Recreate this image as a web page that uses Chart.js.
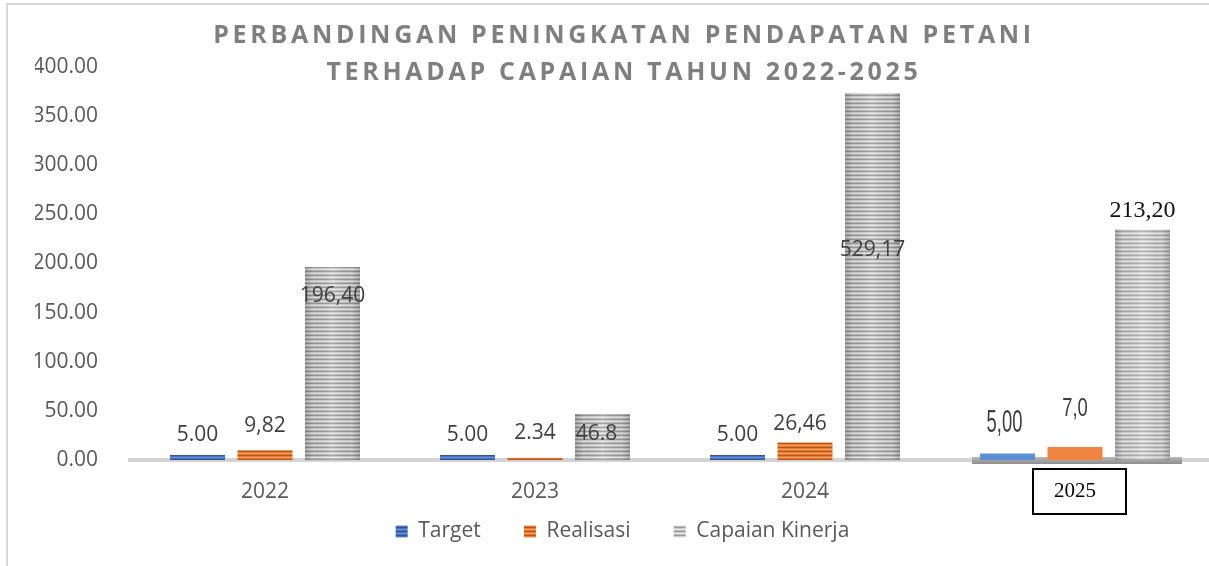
<!DOCTYPE html>
<html>
<head>
<meta charset="utf-8">
<script src="https://cdn.jsdelivr.net/npm/chart.js@4.4.1/dist/chart.umd.min.js"></script>
<style>
  html, body { margin: 0; padding: 0; background: #fff; overflow: hidden; }
  #wrap { position: relative; width: 1212px; height: 566px; }
  #frame { position: absolute; left: 6px; top: 3px; width: 1300px; height: 700px;
           border-left: 2px solid #d9d9d9; border-top: 2px solid #d9d9d9; }
  canvas { position: absolute; left: 0; top: 0; }
</style>
</head>
<body>
<div id="wrap">
  <div id="frame"></div>
  <canvas id="chart" width="1212" height="566"></canvas>
</div>
<script>
var years = ['2022', '2023', '2024', '2025'];
var seriesNames = ['Target', 'Realisasi', 'Capaian Kinerja'];

// bar heights as they stand in the picture
var targetValues = [5.00, 5.00, 5.00, 6.6];
var realisasiValues = [9.82, 2.34, 17.7, 13.3];
var capaianValues = [196.40, 46.8, 373.5, 234.5];

// value labels as they are printed
var targetLabels = ['5.00', '5.00', '5.00', '5,00'];
var realisasiLabels = ['9,82', '2.34', '26,46', '7,0'];
var capaianLabels = ['196,40', '46.8', '529,17', '213,20'];

var yTickValues = [0, 50, 100, 150, 200, 250, 300, 350, 400];

var titleLines = ['PERBANDINGAN PENINGKATAN PENDAPATAN PETANI', 'TERHADAP CAPAIAN TAHUN 2022-2025'];

var canvas = document.getElementById('chart');
var ctx = canvas.getContext('2d');

/* striped fills like the Excel bars */
function stripes(colors) {
  var c = document.createElement('canvas');
  c.width = 8;
  c.height = colors.length;
  var g = c.getContext('2d');
  colors.forEach(function(col, i) {
    g.fillStyle = col;
    g.fillRect(0, i, 8, 1);
  });
  return ctx.createPattern(c, 'repeat');
}

var bluePattern = stripes(['#4472c4', '#6c8fd4', '#4472c4', '#2f5597']);
var orangePattern = stripes(['#ed7d31', '#f3a26b', '#e0742c', '#b9561a']);
var grayPattern = stripes(['#cfcfcf', '#e6e6e6', '#bdbdbd', '#999999']);
var lightGrayPattern = stripes(['#d6d6d6', '#ebebeb', '#c9c9c9', '#acacac']);

// label placement relative to the bar top (px), per series and year
var labelDy = [[-20, -20, -20, -30], [-24, -25, -19, -38], [29, 20, 157, -19]];
var labelDx = [[0, 0, 0, -3], [0, 0, -5, 0], [0, -6, 0, 0]];

function labelStyle(ds, i) {
  if (i === 3 && ds === 2) return { font: '24px "Liberation Serif"', color: '#111', sx: 1, sy: 1 };
  if (i === 3 && ds === 0) return { font: '20px "Liberation Sans"', color: '#3c3c3c', sx: 0.92, sy: 1.6 };
  if (i === 3 && ds === 1) return { font: '20px "Liberation Sans"', color: '#3c3c3c', sx: 0.92, sy: 1.3 };
  return { font: '21px "Open Sans"', color: '#404040', sx: 1, sy: 1 };
}

var titlePlugin = {
  id: 'title2',
  afterDraw: function(chart) {
    var c = chart.ctx;
    c.save();
    c.font = 'bold 25px "Open Sans"';
    c.fillStyle = '#7f7f7f';
    c.textAlign = 'center';
    c.textBaseline = 'middle';
    if ('letterSpacing' in c) c.letterSpacing = '3.7px';
    c.fillText(titleLines[0], 624, 36);
    c.fillText(titleLines[1], 624, 73);
    c.restore();
  }
};

var extrasPlugin = {
  id: 'extras',
  beforeDatasetsDraw: function(chart) {
    // darker baseline piece under the 2025 group
    var c = chart.ctx;
    var px = chart.scales.x.getPixelForTick(3);
    var b = chart.chartArea.bottom;
    var g = c.createLinearGradient(0, b - 3, 0, b + 4);
    g.addColorStop(0, '#b8b8b8');
    g.addColorStop(1, '#8e8e8e');
    c.save();
    c.fillStyle = g;
    c.fillRect(px - 103, b - 3, 210, 7);
    c.restore();
  },
  afterDatasetsDraw: function(chart) {
    var c = chart.ctx;
    c.save();
    // rounded shading on the grey bars
    chart.getDatasetMeta(2).data.forEach(function(el) {
      var l = el.x - el.width / 2;
      var g = c.createLinearGradient(l, 0, l + el.width, 0);
      g.addColorStop(0, 'rgba(0,0,0,0.22)');
      g.addColorStop(0.15, 'rgba(0,0,0,0.05)');
      g.addColorStop(0.5, 'rgba(255,255,255,0.12)');
      g.addColorStop(0.85, 'rgba(0,0,0,0.05)');
      g.addColorStop(1, 'rgba(0,0,0,0.22)');
      c.fillStyle = g;
      c.fillRect(l, el.y, el.width, el.base - el.y);
    });
    // value labels
    var allLabels = [targetLabels, realisasiLabels, capaianLabels];
    c.textAlign = 'center';
    c.textBaseline = 'middle';
    for (var d = 0; d < 3; d++) {
      chart.getDatasetMeta(d).data.forEach(function(el, i) {
        var st = labelStyle(d, i);
        c.save();
        c.font = st.font;
        c.fillStyle = st.color;
        c.translate(el.x + labelDx[d][i], el.y + labelDy[d][i]);
        c.scale(st.sx, st.sy);
        c.fillText(allLabels[d][i], 0, 0);
        c.restore();
      });
    }
    c.restore();
  },
  afterDraw: function(chart) {
    // box round the 2025 label
    var c = chart.ctx;
    var px = chart.scales.x.getPixelForTick(3);
    var b = chart.chartArea.bottom;
    c.save();
    c.strokeStyle = '#000';
    c.lineWidth = 2;
    c.strokeRect(px - 42, b + 9, 93, 45);
    c.restore();
  }
};

new Chart(ctx, {
  type: 'bar',
  data: {
    labels: years,
    datasets: [{
      label: seriesNames[0],
      data: targetValues,
      backgroundColor: function(c) { return c.dataIndex === 3 ? '#5b8fd6' : bluePattern; },
      borderWidth: 0
    }, {
      label: seriesNames[1],
      data: realisasiValues,
      backgroundColor: function(c) { return c.dataIndex === 3 ? '#ef8540' : orangePattern; },
      borderWidth: 0
    }, {
      label: seriesNames[2],
      data: capaianValues,
      backgroundColor: function(c) { return c.dataIndex === 3 ? lightGrayPattern : grayPattern; },
      borderWidth: 0
    }]
  },
  options: {
    responsive: false,
    animation: false,
    categoryPercentage: 0.75,
    barPercentage: 0.815,
    layout: { padding: { top: 67, left: 35, right: 2, bottom: 14 } },
    plugins: {
      title: { display: false },
      tooltip: { enabled: false },
      legend: {
        position: 'bottom',
        labels: {
          boxWidth: 12,
          boxHeight: 12,
          padding: 16,
          color: '#595959',
          font: { family: 'Open Sans', size: 21 },
          generateLabels: function(chart) {
            var items = Chart.defaults.plugins.legend.labels.generateLabels(chart);
            // wider gaps between items without making the legend taller
            items.forEach(function(it, i) {
              if (i < items.length - 1) it.text += '     ';
            });
            return items;
          }
        }
      }
    },
    scales: {
      x: {
        grid: { display: false, drawTicks: false },
        border: { display: true, color: '#d3d3d3', width: 4 },
        ticks: {
          padding: 19,
          color: function(c) { return c.index === 3 ? '#000' : '#595959'; },
          font: function(c) {
            return c.index === 3 ? { family: 'Liberation Serif', size: 21 } : { family: 'Open Sans', size: 21 };
          }
        },
        afterFit: function(s) { s.height = 45; }
      },
      y: {
        min: 0,
        max: 400,
        grid: { display: false, drawTicks: false },
        border: { display: false },
        afterBuildTicks: function(s) {
          s.ticks = yTickValues.map(function(v) { return { value: v }; });
        },
        afterFit: function(s) { s.width = 95; },
        ticks: {
          padding: 32,
          color: '#595959',
          font: { family: 'Open Sans', size: 21 },
          callback: function(v) { return Number(v).toFixed(2); }
        }
      }
    }
  },
  plugins: [titlePlugin, extrasPlugin]
});
</script>
</body>
</html>
